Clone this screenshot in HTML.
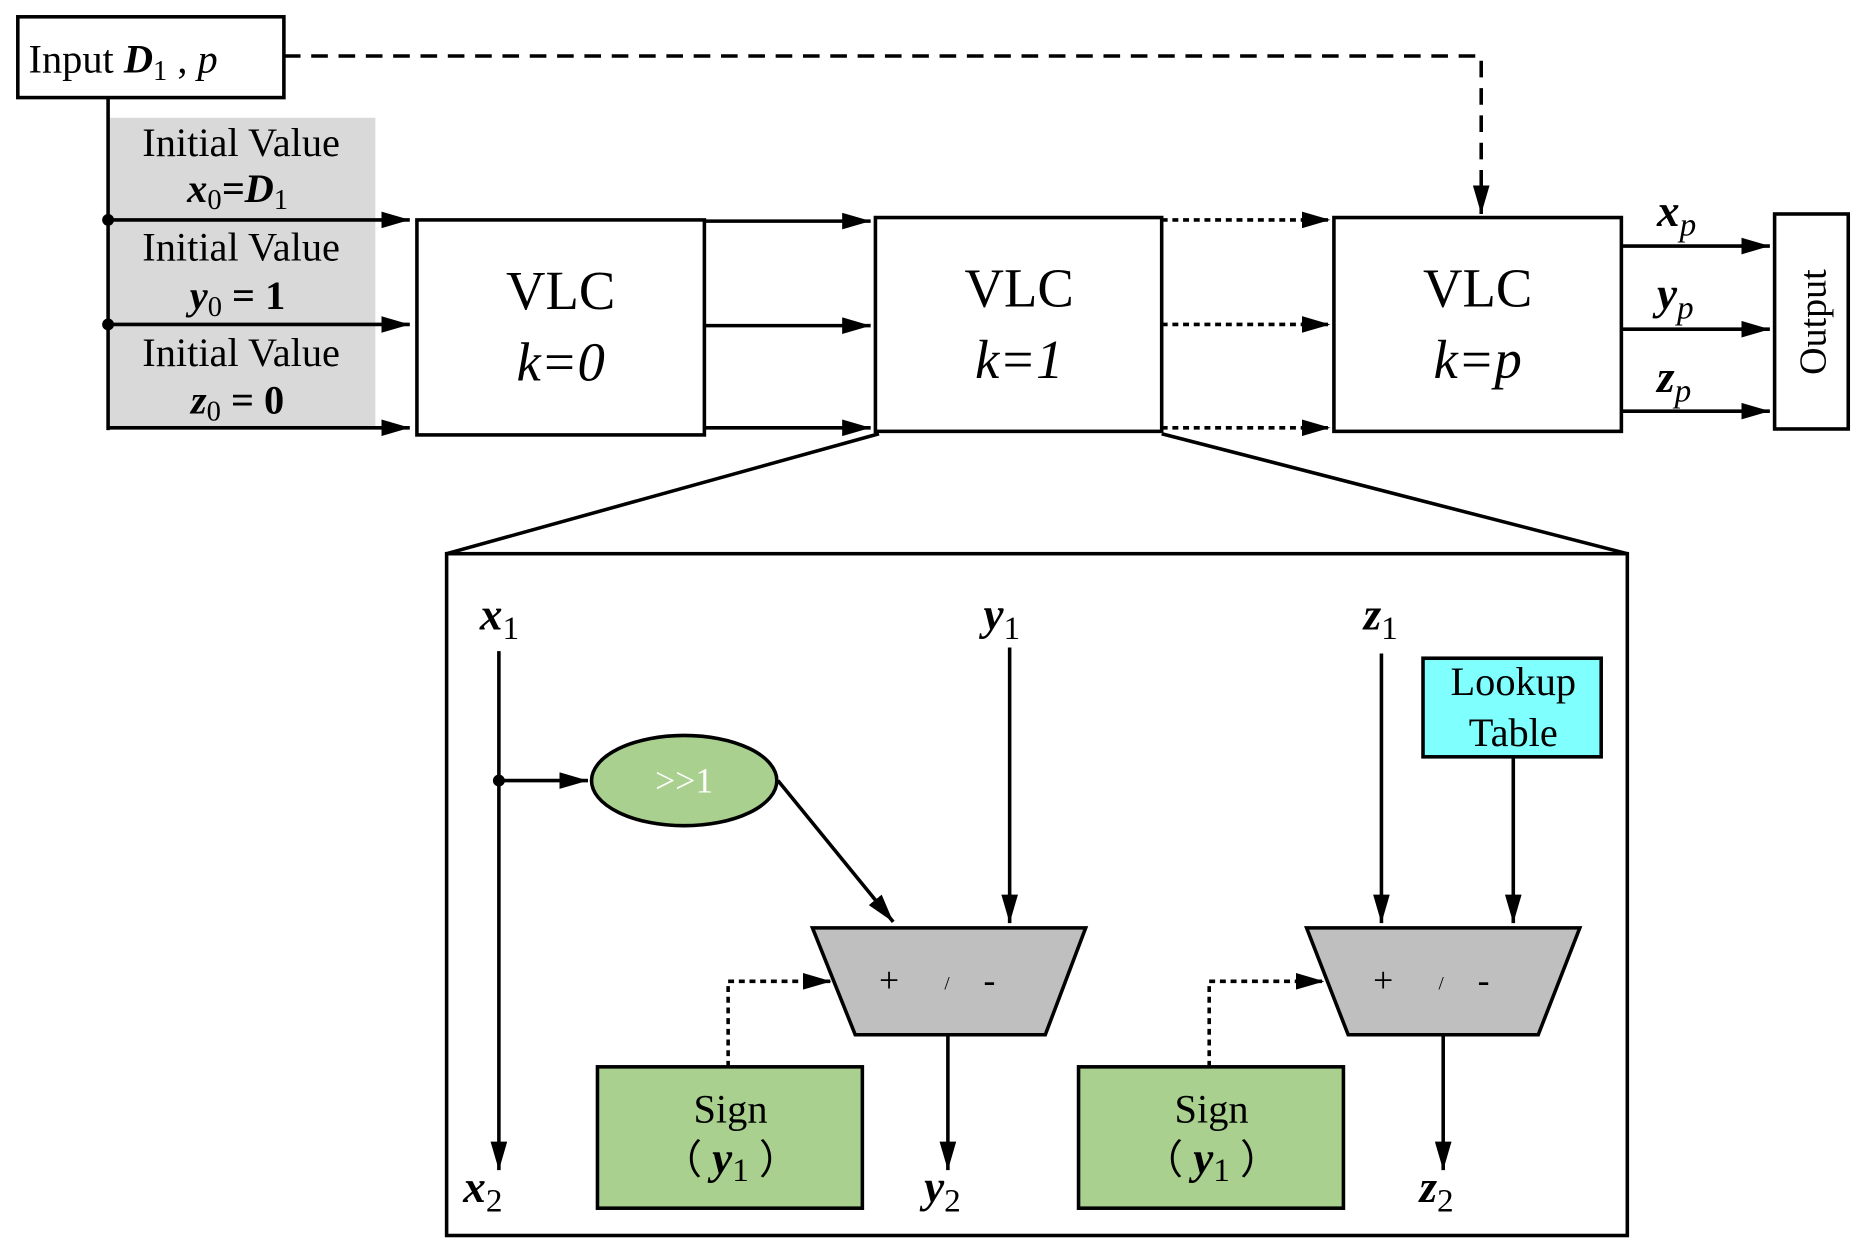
<!DOCTYPE html>
<html><head><meta charset="utf-8"><style>
html,body{margin:0;padding:0;background:#fff}
svg{display:block}
text{font-family:"Liberation Serif",serif;fill:#000}
.b{font-family:"Liberation Serif",serif;font-weight:bold;font-style:italic}
.s{font-style:normal;font-weight:normal}
</style></head><body>
<svg width="1853" height="1244" viewBox="0 0 1560 1047" xmlns="http://www.w3.org/2000/svg">
<defs>
<marker id="A" markerWidth="24" markerHeight="14" refX="24" refY="7" orient="auto" markerUnits="userSpaceOnUse">
<path d="M0,0 L24,7 L0,14 z" fill="#000"/></marker>
</defs>
<g stroke="#000" stroke-width="3" fill="none">
<rect x="91" y="99" width="225" height="261" fill="#d9d9d9" stroke="none"/>
<rect x="15" y="14" width="224" height="68" fill="#fff"/>
<path d="M239,47 H1247 V180" stroke-dasharray="14,9" marker-end="url(#A)"/>
<path d="M91,82 V362"/>
<path d="M91,185 H345" marker-end="url(#A)"/>
<path d="M91,273 H345" marker-end="url(#A)"/>
<path d="M91,360 H345" marker-end="url(#A)"/>
<rect x="351" y="185" width="242" height="181" fill="#fff"/>
<path d="M593,186 H733" marker-end="url(#A)"/>
<path d="M593,274 H733" marker-end="url(#A)"/>
<path d="M593,360 H733" marker-end="url(#A)"/>
<rect x="737" y="183" width="241" height="180" fill="#fff"/>
<path d="M978,185 H1120" stroke-dasharray="5,4" marker-end="url(#A)"/>
<path d="M978,273 H1120" stroke-dasharray="5,4" marker-end="url(#A)"/>
<path d="M978,360 H1120" stroke-dasharray="5,4" marker-end="url(#A)"/>
<rect x="1123" y="183" width="242" height="180" fill="#fff"/>
<path d="M1365,207 H1490" marker-end="url(#A)"/>
<path d="M1365,277 H1490" marker-end="url(#A)"/>
<path d="M1365,346 H1490" marker-end="url(#A)"/>
<rect x="1494" y="180" width="62" height="181" fill="#fff"/>
<path d="M740,365 L376,466 M978,365 L1370,466"/>
<rect x="376" y="466" width="994" height="574"/>
<path d="M420,548 V985" marker-end="url(#A)"/>
<path d="M420,657 H495" marker-end="url(#A)"/>
<ellipse cx="576" cy="657" rx="78" ry="38" fill="#a9d08e"/>
<path d="M655,657 L752,776" marker-end="url(#A)"/>
<path d="M850,545 V777" marker-end="url(#A)"/>
<path d="M684,781 H914 L880,871 H720 Z" fill="#bfbfbf"/>
<rect x="503" y="898" width="223" height="119" fill="#a9d08e"/>
<path d="M613,898 V826 H700" stroke-dasharray="5,4" marker-end="url(#A)"/>
<path d="M798,871 V985" marker-end="url(#A)"/>
<path d="M1163,550 V777" marker-end="url(#A)"/>
<rect x="1198" y="554" width="150" height="83" fill="#80ffff"/>
<path d="M1274,637 V777" marker-end="url(#A)"/>
<path d="M1100,781 H1330 L1295,871 H1135 Z" fill="#bfbfbf"/>
<rect x="908" y="898" width="223" height="119" fill="#a9d08e"/>
<path d="M1018,898 V826 H1115" stroke-dasharray="5,4" marker-end="url(#A)"/>
<path d="M1215,871 V985" marker-end="url(#A)"/>
</g>
<circle cx="91" cy="185" r="5"/><circle cx="91" cy="273" r="5"/><circle cx="420" cy="657" r="5"/>
<text x="24" y="61" font-size="34">Input <tspan class="b">D</tspan><tspan font-size="24" dy="6">1</tspan><tspan dy="-6"> ,   </tspan><tspan font-style="italic">p</tspan></text>
<g font-size="34" text-anchor="middle">
<text x="203" y="131">Initial Value</text>
<text x="200" y="170" class="b">x<tspan font-size="24" class="s" dy="6">0</tspan><tspan dy="-6">=D</tspan><tspan font-size="24" class="s" dy="6">1</tspan></text>
<text x="203" y="219">Initial Value</text>
<text x="200" y="260" class="b">y<tspan font-size="24" class="s" dy="6">0</tspan><tspan dy="-6" font-style="normal"> = 1</tspan></text>
<text x="203" y="308">Initial Value</text>
<text x="200" y="348" class="b">z<tspan font-size="24" class="s" dy="6">0</tspan><tspan dy="-6" font-style="normal"> = 0</tspan></text>
</g>
<g font-size="46" text-anchor="middle">
<text x="472" y="260">VLC</text><text x="472" y="320" font-style="italic">k=0</text>
<text x="858" y="258">VLC</text><text x="858" y="318" font-style="italic">k=1</text>
<text x="1244" y="258">VLC</text><text x="1244" y="318" font-style="italic">k=p</text>
</g>
<g font-size="38">
<text x="1395" y="190" class="b">x<tspan font-size="28" font-weight="normal" dy="8">p</tspan></text>
<text x="1395" y="260" class="b">y<tspan font-size="28" font-weight="normal" dy="8">p</tspan></text>
<text x="1395" y="330" class="b">z<tspan font-size="28" font-weight="normal" dy="8">p</tspan></text>
</g>
<text transform="translate(1537,271) rotate(-90)" font-size="32" text-anchor="middle">Output</text>
<g font-size="38">
<text x="404" y="530" class="b">x<tspan font-size="28" class="s" dy="8">1</tspan></text>
<text x="828" y="530" class="b">y<tspan font-size="28" class="s" dy="8">1</tspan></text>
<text x="1148" y="530" class="b">z<tspan font-size="28" class="s" dy="8">1</tspan></text>
<text x="390" y="1012" class="b">x<tspan font-size="28" class="s" dy="8">2</tspan></text>
<text x="778" y="1012" class="b">y<tspan font-size="28" class="s" dy="8">2</tspan></text>
<text x="1195" y="1012" class="b">z<tspan font-size="28" class="s" dy="8">2</tspan></text>
</g>
<text x="576" y="667" font-size="30" text-anchor="middle" style="fill:#fff">&gt;&gt;1</text>
<g font-size="30">
<text x="740" y="835">+</text><text x="795" y="833" font-size="16">/</text><text x="828" y="835">-</text>
<text x="1156" y="835">+</text><text x="1211" y="833" font-size="16">/</text><text x="1244" y="835">-</text>
</g>
<g font-size="34" text-anchor="middle">
<text x="1274" y="585">Lookup</text><text x="1274" y="628">Table</text>
<text x="615" y="945">Sign</text>
<text x="615" y="988">（ <tspan class="b" font-size="38">y</tspan><tspan font-size="28" dy="6">1</tspan><tspan dy="-6"> ）</tspan></text>
<text x="1020" y="945">Sign</text>
<text x="1020" y="988">（ <tspan class="b" font-size="38">y</tspan><tspan font-size="28" dy="6">1</tspan><tspan dy="-6"> ）</tspan></text>
</g>
</svg>
</body></html>
